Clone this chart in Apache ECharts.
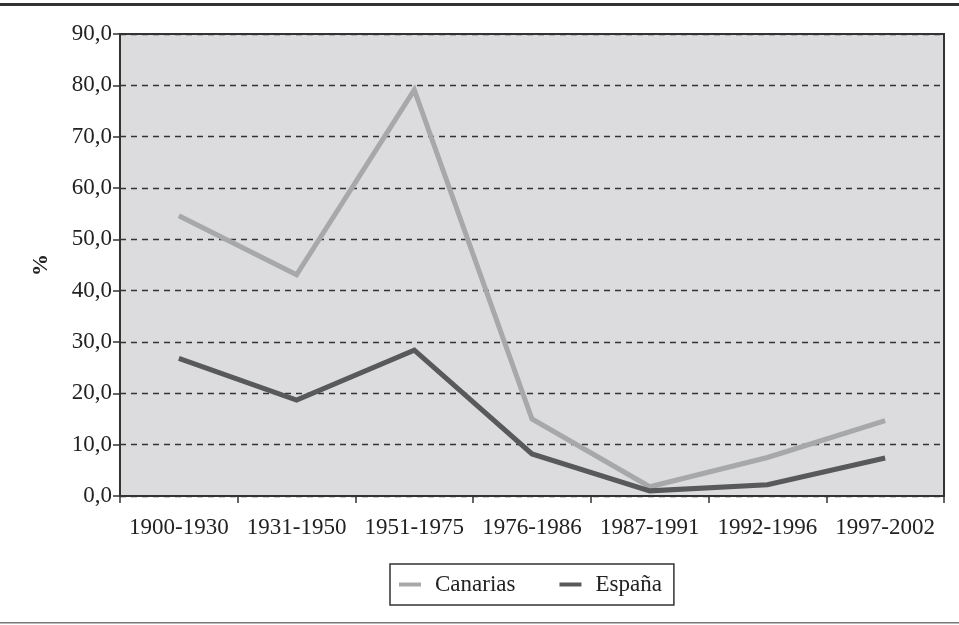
<!DOCTYPE html>
<html>
<head>
<meta charset="utf-8">
<script src="https://cdn.jsdelivr.net/npm/echarts@6/dist/echarts.min.js"></script>
<style>
  html, body { margin: 0; padding: 0; background: #fff; }
  #chart { width: 959px; height: 625px; }
</style>
</head>
<body>
<div id="chart"></div>
<script>
// periodos (eje x)
var periodos = ['1900-1930', '1931-1950', '1951-1975', '1976-1986', '1987-1991', '1992-1996', '1997-2002'];
// valores en %
var canarias = [54.6, 43.1, 79.1, 15.0, 1.8, 7.5, 14.7];
var espana = [26.8, 18.7, 28.4, 8.2, 1.0, 2.2, 7.4];

var fuente = 'Liberation Serif';

function fmt(v) {
    return v.toFixed(1).replace('.', ',');
}

var myChart = echarts.init(document.getElementById('chart'));
var option = {
    animation: false,
    textStyle: { fontFamily: fuente },
    graphic: [
        { type: 'rect', shape: { x: 0, y: 3, width: 959, height: 3 }, style: { fill: '#333' } },
        { type: 'rect', shape: { x: 0, y: 622, width: 959, height: 1.5 }, style: { fill: '#777' } }
    ],
    grid: {
        left: 120,
        right: 15,
        top: 34,
        bottom: 129,
        show: true,
        backgroundColor: '#dcdcde',
        borderColor: '#333',
        borderWidth: 2
    },
    legend: {
        left: 390,
        top: 564,
        padding: [9, 12, 9, 9],
        borderColor: '#333',
        borderWidth: 1.5,
        itemGap: 44,
        itemWidth: 22,
        itemHeight: 4,
        icon: 'rect',
        textStyle: { fontFamily: fuente, fontSize: 23, color: '#222', padding: [0, 0, 0, 9] },
        data: ['Canarias', 'España']
    },
    xAxis: {
        type: 'category',
        data: periodos,
        boundaryGap: true,
        axisLine: { lineStyle: { color: '#333', width: 2 } },
        axisTick: { show: true, interval: 0, length: 7, lineStyle: { color: '#333', width: 1.5 } },
        axisLabel: { interval: 0, fontFamily: fuente, fontSize: 23, color: '#222', margin: 20 }
    },
    yAxis: {
        type: 'value',
        min: 0,
        max: 90,
        interval: 10,
        name: '%',
        nameLocation: 'middle',
        nameRotate: 90,
        nameGap: 68,
        nameTextStyle: { fontFamily: fuente, fontSize: 22, fontWeight: 'bold', color: '#222' },
        axisLine: { show: true, lineStyle: { color: '#333', width: 2 } },
        axisTick: { show: true, length: 7, lineStyle: { color: '#333', width: 1.5 } },
        axisLabel: { fontFamily: fuente, fontSize: 23, color: '#222', margin: 8, formatter: fmt },
        splitLine: { show: true, lineStyle: { color: '#333', width: 1.3, type: [6, 5] } }
    },
    series: [
        {
            name: 'Canarias',
            type: 'line',
            data: canarias,
            showSymbol: false,
            symbol: 'none',
            color: '#a7a8aa',
            lineStyle: { color: '#a7a8aa', width: 5, join: 'miter' }
        },
        {
            name: 'España',
            type: 'line',
            data: espana,
            showSymbol: false,
            symbol: 'none',
            color: '#58595b',
            lineStyle: { color: '#58595b', width: 5, join: 'miter' }
        }
    ]
};
myChart.setOption(option);
</script>
</body>
</html>
